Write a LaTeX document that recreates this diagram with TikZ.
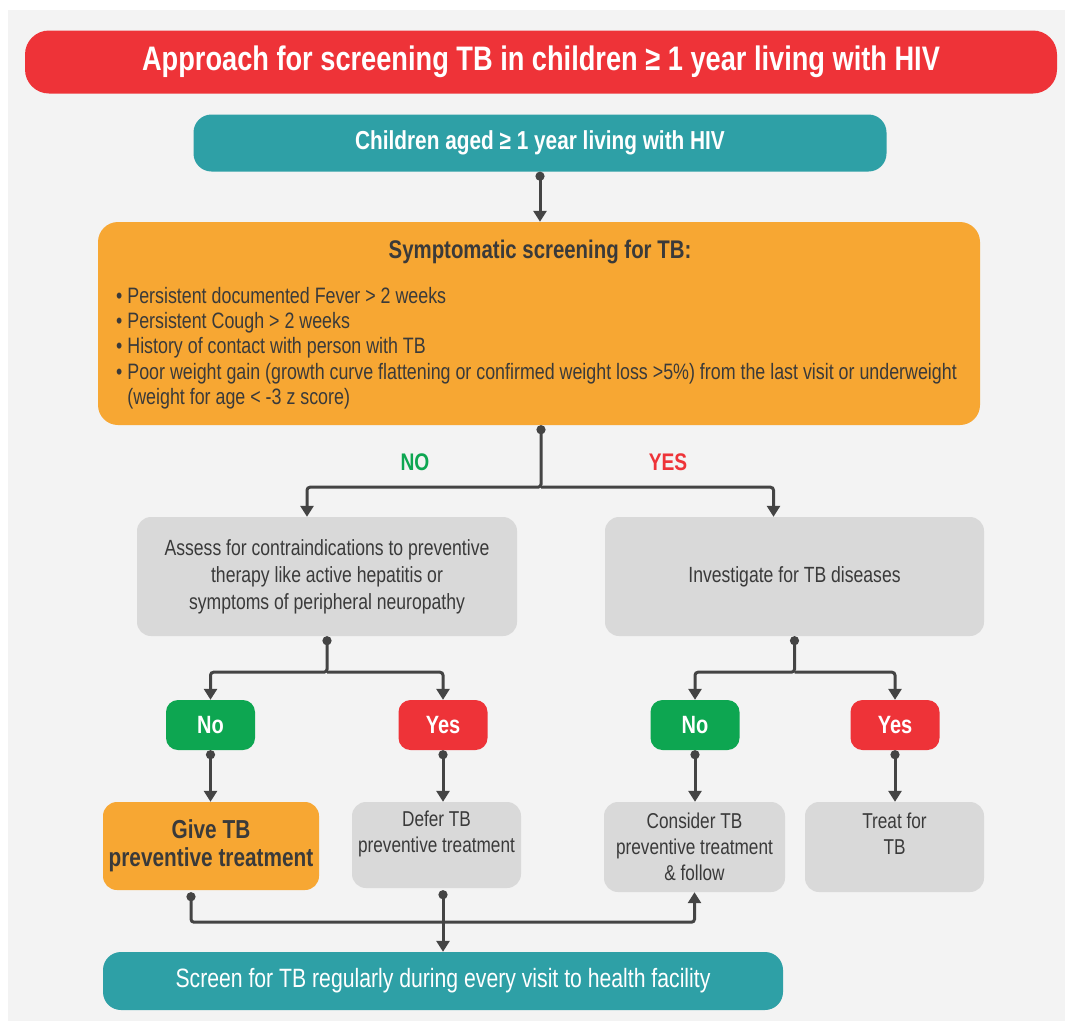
\documentclass[tikz,border=0pt]{standalone}
\usepackage{fontspec}
\setmainfont{Liberation Sans}[FakeStretch=0.8]
\usetikzlibrary{arrows.meta,calc}
\definecolor{bgc}{HTML}{F3F3F3}
\definecolor{redc}{HTML}{EE3338}
\definecolor{tealc}{HTML}{2EA0A6}
\definecolor{orc}{HTML}{F7A733}
\definecolor{grc}{HTML}{D9D9D9}
\definecolor{greenc}{HTML}{0DA651}
\definecolor{txtc}{HTML}{3A3A3A}
\definecolor{linec}{HTML}{444444}
\tikzset{
  box/.style={rounded corners=14pt, inner sep=0pt, align=center},
  conn/.style={line width=3pt, draw=linec, rounded corners=3pt, {Circle[length=9pt]}-{Triangle[length=11pt,width=13pt]}},
  connb/.style={line width=3pt, draw=linec, rounded corners=3pt, -{Triangle[length=11pt,width=13pt]}},
  yn/.style={box, rounded corners=12pt, minimum width=89pt, minimum height=50pt, text=white, font=\bfseries\fontsize{25}{28}\selectfont},
  gtext/.style={text=txtc, font=\fontsize{22}{27}\selectfont},
  stext/.style={text=txtc, font=\fontsize{21.5}{26}\selectfont},
}
\begin{document}
\begin{tikzpicture}[x=1pt,y=-1pt]
\useasboundingbox (0,0) rectangle (1065,1021);
\fill[white] (0,0) rectangle (1065,1021);
\fill[bgc] (8,10) rectangle (1065,1021);

\node[box, fill=redc, rounded corners=24pt, minimum width=1032pt, minimum height=63pt, text=white, font=\bfseries\fontsize{34}{38}\selectfont] (title) at (541,62) {\raisebox{-2pt}{Approach for screening TB in children ≥ 1 year living with HIV}};

\node[box, fill=tealc, rounded corners=18pt, minimum width=693pt, minimum height=57pt, text=white, font=\bfseries\fontsize{26}{30}\selectfont] (kids) at (540,143) {Children aged ≥ 1 year living with HIV};

\node[box, fill=orc, rounded corners=20pt, minimum width=882pt, minimum height=203pt] (symp) at (539,323.5) {};
\node[text=txtc, font=\bfseries\fontsize{25.5}{29}\selectfont] (symphead) at (540,252) {Symptomatic screening for TB:};
\node[anchor=north west, inner sep=0pt, align=left, text=txtc, font=\fontsize{22.3}{25.3}\selectfont] (symplist) at (116,287)
{\textbullet\ Persistent documented Fever > 2 weeks\\
\textbullet\ Persistent Cough > 2 weeks\\
\textbullet\ History of contact with person with TB\\
\textbullet\ Poor weight gain (growth curve flattening or confirmed weight loss >5\%) from the last visit or underweight\\
\phantom{\textbullet\ }(weight for age < -3 z score)};

\node[text=greenc, font=\bfseries\fontsize{24}{28}\selectfont] (nolab) at (415,462) {NO};
\node[text=redc, font=\bfseries\fontsize{24}{28}\selectfont] (yeslab) at (668,462) {YES};

\node[box, fill=grc, minimum width=380pt, minimum height=119pt, gtext] (contra) at (327,576.5)
{Assess for contraindications to preventive\\therapy like active hepatitis or\\symptoms of peripheral neuropathy};
\node[box, fill=grc, minimum width=379pt, minimum height=119pt, gtext] (invest) at (794.5,576.5) {Investigate for TB diseases};

\node[yn, fill=greenc] (no1) at (210.5,725) {No};
\node[yn, fill=redc] (yes1) at (443,725) {Yes};
\node[yn, fill=greenc] (no2) at (695,725) {No};
\node[yn, fill=redc] (yes2) at (895,725) {Yes};

\node[box, fill=orc, minimum width=216pt, minimum height=88pt, text=txtc, font=\bfseries\fontsize{26}{28}\selectfont] (give) at (211,846) {Give TB\\preventive treatment};
\node[box, fill=grc, minimum width=169pt, minimum height=86pt, stext] (defer) at (436.5,845) {Defer TB\\preventive treatment\\~};
\node[box, fill=grc, minimum width=181pt, minimum height=90pt, stext] (consider) at (694.5,847) {Consider TB\\preventive treatment\\\& follow};
\node[box, fill=grc, minimum width=179pt, minimum height=90pt, stext] (treat) at (894.5,847) {Treat for\\TB\\~};

\node[box, fill=tealc, rounded corners=18pt, minimum width=680pt, minimum height=58pt, text=white, font=\fontsize{26.5}{30}\selectfont] (screen) at (443,981) {Screen for TB regularly during every visit to health facility};

% connectors
\draw[conn] (kids.south) -- (symp.north -| kids.south);
\coordinate (j1) at ($(symp.south)+(2,62)$);
\draw[conn] ($(symp.south)+(2,0)$) -- (j1) -| ($(contra.north)+(-20,0)$);
\draw[connb] (j1) -| ($(invest.north)+(-21,0)$);
\coordinate (j2) at ($(contra.south)+(0,36)$);
\draw[conn] (contra.south) -- (j2) -| (no1.north);
\draw[connb] (j2) -| (yes1.north);
\coordinate (j3) at ($(invest.south)+(0,36)$);
\draw[conn] (invest.south) -- (j3) -| (no2.north);
\draw[connb] (j3) -| (yes2.north);
\draw[conn] (no1.south) -- (no1.south |- give.north);
\draw[conn] (yes1.south) -- (yes1.south |- defer.north);
\draw[conn] (no2.south) -- (no2.south |- consider.north);
\draw[conn] (yes2.south) -- (yes2.south |- treat.north);
\coordinate (j4) at ($(give.south)+(-20,32)$);
\draw[conn] ($(give.south)+(-20,2)$) -- (j4) -| (consider.south);
\draw[conn] ($(screen.north |- defer.south)+(0,2)$) -- (screen.north);
\end{tikzpicture}
\end{document}
